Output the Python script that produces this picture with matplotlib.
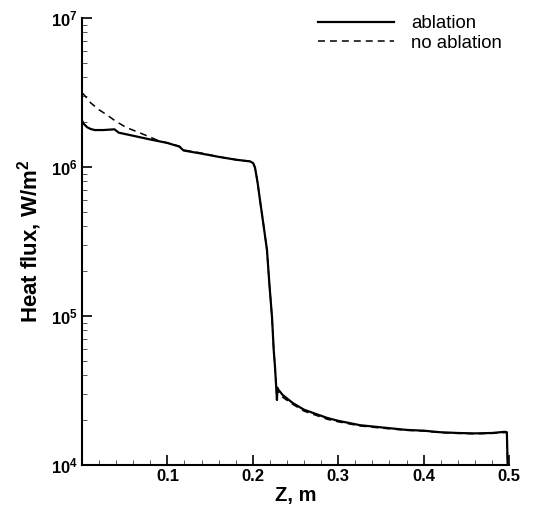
import numpy as np
import matplotlib
matplotlib.use('Agg')
from matplotlib import pyplot as plt
from matplotlib.ticker import LogLocator, MultipleLocator, NullFormatter, FixedLocator

# Z positions (m) and heat flux (W/m^2)
z_abl = [0.0, 0.002, 0.006, 0.010, 0.015, 0.025, 0.038, 0.043, 0.060, 0.080,
         0.100, 0.114, 0.119, 0.140, 0.160, 0.180, 0.197, 0.2005, 0.2026,
         0.2057, 0.2084, 0.2125, 0.2166, 0.2193, 0.2225, 0.2245, 0.226,
         0.2283, 0.2288, 0.2300, 0.2350, 0.2470, 0.2600, 0.2870, 0.3000,
         0.3255, 0.3500, 0.3800, 0.4000, 0.4190, 0.4400, 0.4600, 0.4800,
         0.4950, 0.4975, 0.4985]
q_abl = [2.05e6, 1.95e6, 1.85e6, 1.80e6, 1.77e6, 1.77e6, 1.79e6, 1.70e6,
         1.62e6, 1.53e6, 1.45e6, 1.37e6, 1.29e6, 1.23e6, 1.17e6, 1.12e6,
         1.09e6, 1.06e6, 9.9e5, 7.8e5, 6.0e5, 4.1e5, 2.77e5, 1.67e5,
         9.8e4, 5.9e4, 4.55e4, 2.73e4, 3.3e4, 3.2e4, 2.95e4, 2.6e4, 2.35e4,
         2.07e4, 1.98e4, 1.85e4, 1.79e4, 1.72e4, 1.70e4, 1.66e4, 1.64e4,
         1.63e4, 1.64e4, 1.67e4, 1.66e4, 9.5e3]

z_noabl = [0.0, 0.0035, 0.010, 0.020, 0.029, 0.040, 0.052, 0.065, 0.076,
           0.090, 0.100, 0.114, 0.119, 0.140, 0.160, 0.180, 0.197, 0.2005,
           0.2026, 0.2057, 0.2084, 0.2125, 0.2166, 0.2193, 0.2225, 0.2245,
           0.226, 0.2283, 0.2288, 0.2300, 0.2350, 0.2470, 0.2600, 0.2870,
           0.3000, 0.3255, 0.3500, 0.3800, 0.4000, 0.4190, 0.4400, 0.4600,
           0.4800, 0.4950, 0.4975, 0.4985]
q_noabl = [3.15e6, 3.0e6, 2.7e6, 2.42e6, 2.24e6, 2.02e6, 1.84e6, 1.72e6,
           1.62e6, 1.50e6, 1.45e6, 1.38e6, 1.30e6, 1.24e6, 1.17e6, 1.12e6,
           1.09e6, 1.06e6, 9.9e5, 7.8e5, 6.0e5, 4.1e5, 2.77e5, 1.67e5,
           9.8e4, 5.9e4, 4.55e4, 2.80e4, 3.15e4, 3.1e4, 2.85e4, 2.55e4,
           2.30e4, 2.03e4, 1.95e4, 1.83e4, 1.77e4, 1.71e4, 1.69e4, 1.65e4,
           1.63e4, 1.62e4, 1.63e4, 1.65e4, 1.65e4, 9.5e3]

x_ticks = [0.1, 0.2, 0.3, 0.4, 0.5]
x_labels = ['0.1', '0.2', '0.3', '0.4', '0.5']

plt.rcParams['font.family'] = ['Liberation Sans', 'DejaVu Sans']
plt.rcParams['mathtext.fontset'] = 'custom'
plt.rcParams['mathtext.rm'] = 'Liberation Sans:bold'
plt.rcParams['mathtext.bf'] = 'Liberation Sans:bold'
plt.rcParams['mathtext.default'] = 'bf'
plt.rcParams['lines.scale_dashes'] = False

fig = plt.figure(figsize=(5.34, 5.07), dpi=100)
ax = fig.add_axes([82 / 534, 1 - 465 / 507, 427 / 534, 447 / 507])

ax.plot(z_abl, q_abl, color='black', lw=1.6, label='ablation')
ax.plot(z_noabl, q_noabl, color='black', lw=1.1, dashes=(5, 3.6), label='no ablation')

ax.set_yscale('log')
ax.set_xlim(0, 0.5)
ax.set_ylim(1e4, 1e7)

for s in ['top', 'right']:
    ax.spines[s].set_visible(False)
for s in ['left', 'bottom']:
    ax.spines[s].set_linewidth(1.5)

ax.xaxis.set_major_locator(FixedLocator(x_ticks))
ax.set_xticklabels(x_labels)
ax.xaxis.set_minor_locator(MultipleLocator(0.02))
ax.yaxis.set_major_locator(LogLocator(base=10, numticks=10))
ax.yaxis.set_minor_locator(LogLocator(base=10, subs=np.arange(2, 10), numticks=10))
ax.yaxis.set_minor_formatter(NullFormatter())

ax.tick_params(which='major', direction='in', length=7.2, width=1.2, pad=3,
               labelsize=12)
ax.tick_params(which='minor', direction='in', length=3.6, width=0.7, color='#555555')
for lab in ax.get_xticklabels() + ax.get_yticklabels():
    lab.set_fontweight('bold')

ax.set_xlabel('Z, m', fontsize=14.5, fontweight='bold', labelpad=1)
ax.set_ylabel('Heat flux, W/m$^2$', fontsize=16, fontweight='bold', labelpad=5)

leg = ax.legend(loc='upper left', bbox_to_anchor=(318 / 534, 1 - 15 / 507),
                bbox_transform=fig.transFigure, frameon=False, fontsize=13.4,
                handlelength=4.1, handletextpad=0.9, labelspacing=0.15,
                borderpad=0, borderaxespad=0)

fig.savefig('out.png', dpi=100)
